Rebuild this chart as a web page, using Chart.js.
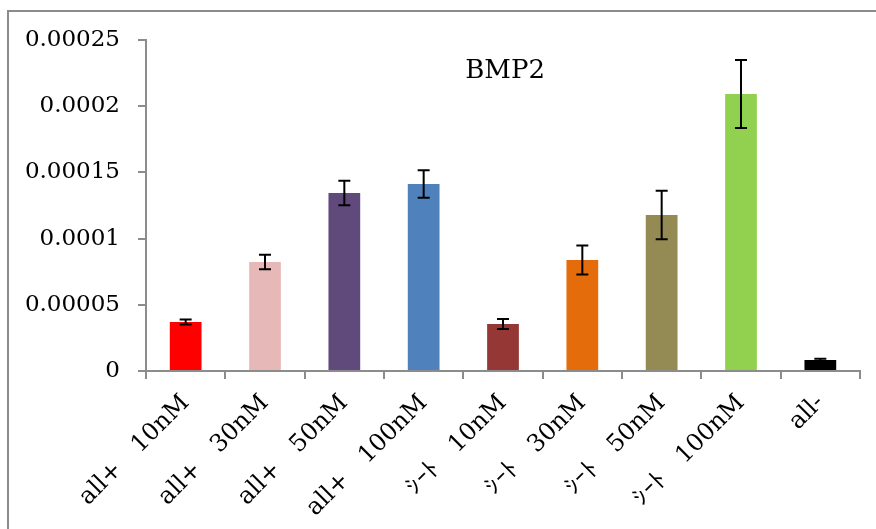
<!DOCTYPE html>
<html>
<head>
<meta charset="utf-8">
<script src="https://cdn.jsdelivr.net/npm/chart.js@4"></script>
<style>
  html, body { margin: 0; padding: 0; background: #fff; }
  #frame {
    position: absolute; left: 7px; top: 10px; width: 880px; height: 540px;
    border-left: 2px solid #8c8c8c; border-top: 2px solid #8c8c8c;
  }
  #chart { position: absolute; left: 0; top: 0; }
</style>
</head>
<body>
<div id="frame"></div>
<canvas id="chart" width="876" height="529"></canvas>
<script>
const categories = [
    "all+\u300010nM", "all+\u300030nM", "all+\u300050nM", "all+\u3000100nM",
    "\uFF7C\uFF70\uFF84\u300010nM", "\uFF7C\uFF70\uFF84\u300030nM",
    "\uFF7C\uFF70\uFF84\u300050nM", "\uFF7C\uFF70\uFF84\u3000100nM", "all-"
];
const values = [0.0000370, 0.0000823, 0.0001344, 0.0001412, 0.0000355, 0.0000838, 0.0001178, 0.0002092, 0.0000083];
const errors = [0.0000019, 0.0000055, 0.0000093, 0.0000104, 0.0000038, 0.0000110, 0.0000183, 0.0000257, 0.0000010];
const barColors = ["#ff0000", "#e6b9b8", "#604a7b", "#4f81bd", "#953735", "#e46c0a", "#948a54", "#92d050", "#000000"];
const yTickLabels = ["0", "0.00005", "0.0001", "0.00015", "0.0002", "0.00025"];
const chartTitle = "BMP2";

const serif = "'DejaVu Serif', serif";
const axisGray = "#8c8c8c";

// error bars drawn from the data arrays through the scales
const errorBarPlugin = {
    id: "errorBars",
    afterDatasetsDraw(chart) {
        const ctx = chart.ctx;
        const meta = chart.getDatasetMeta(0);
        const y = chart.scales.y;
        ctx.save();
        ctx.strokeStyle = "#000";
        ctx.lineWidth = 2;
        meta.data.forEach((bar, i) => {
            const top = y.getPixelForValue(values[i] + errors[i]);
            const bot = y.getPixelForValue(values[i] - errors[i]);
            const x = bar.x;
            ctx.beginPath();
            ctx.moveTo(x, top); ctx.lineTo(x, bot);
            ctx.moveTo(x - 6, top); ctx.lineTo(x + 6, top);
            ctx.moveTo(x - 6, bot); ctx.lineTo(x + 6, bot);
            ctx.stroke();
        });
        ctx.restore();
    }
};

// title sits inside the plot area
const innerTitlePlugin = {
    id: "innerTitle",
    afterDraw(chart) {
        const ctx = chart.ctx;
        const area = chart.chartArea;
        ctx.save();
        ctx.fillStyle = "#000";
        ctx.font = "26px " + serif;
        ctx.textAlign = "center";
        ctx.textBaseline = "alphabetic";
        ctx.fillText(chartTitle, area.left + (area.right - area.left) * 0.503, area.top + 38);
        ctx.restore();
    }
};

new Chart(document.getElementById("chart").getContext("2d"), {
    type: "bar",
    data: {
        labels: categories,
        datasets: [{
            data: values,
            backgroundColor: barColors,
            borderWidth: 0,
            barPercentage: 0.4,
            categoryPercentage: 1
        }]
    },
    options: {
        responsive: false,
        animation: false,
        layout: { padding: { top: 40, right: 16, left: 10, bottom: 0 } },
        plugins: {
            legend: { display: false },
            tooltip: { enabled: false }
        },
        scales: {
            x: {
                grid: { display: true, drawOnChartArea: false, offset: true, color: axisGray, tickLength: 8, lineWidth: 2 },
                border: { color: axisGray, width: 2 },
                ticks: {
                    color: "#000",
                    font: { family: serif, size: 24 },
                    maxRotation: 45,
                    minRotation: 45,
                    padding: 10,
                    autoSkip: false
                },
                afterFit(scale) { scale.height = 158; }
            },
            y: {
                min: 0,
                max: 0.00025,
                grid: { display: true, drawOnChartArea: false, color: axisGray, tickLength: 8, lineWidth: 2 },
                border: { color: axisGray, width: 2 },
                ticks: {
                    stepSize: 0.00005,
                    color: "#000",
                    font: { family: serif, size: 23 },
                    padding: 18,
                    callback: (v, i) => yTickLabels[i]
                },
                afterFit(scale) { scale.width = 136; }
            }
        }
    },
    plugins: [errorBarPlugin, innerTitlePlugin]
});
</script>
</body>
</html>
